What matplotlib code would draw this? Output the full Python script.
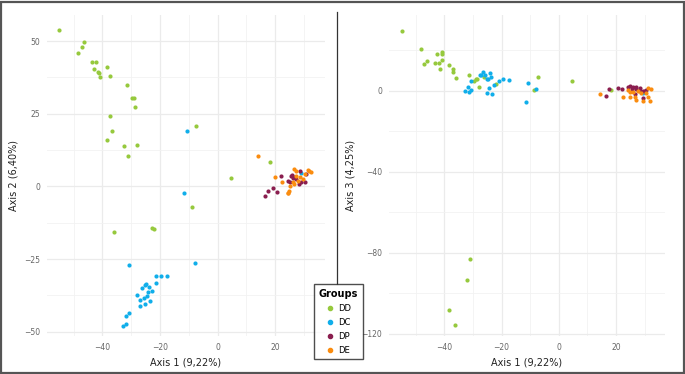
import matplotlib.pyplot as plt
from matplotlib.lines import Line2D
from matplotlib.ticker import MultipleLocator

# ---- data: axis 1 vs axis 2 (left panel) ----
dd_x1 = [-55.1, -46.3, -47.2, -48.4, -43.5, -42.1, -42.9, -41.6, -41.2, -40.9, -38.4, -37.3,
         -31.4, -29.8, -28.9, -28.5, -37.3, -36.6, -38.4, -32.3, -27.9, -31.1, -7.5, 4.6, 18.3,
         -8.8, -36.1, -22.9, -22.2]
dd_y2 = [53.9, 49.8, 48.1, 45.8, 42.9, 42.7, 40.4, 39.4, 39.2, 37.7, 41.2, 38.1,
         34.8, 30.6, 30.6, 27.3, 24.4, 19.0, 16.0, 14.0, 14.2, 10.6, 20.9, 2.9, 8.5,
         -7.0, -15.8, -14.2, -14.7]
dc_x1 = [-10.7, -11.6, -7.9, -30.6, -21.3, -19.5, -17.7, -21.2, -24.8, -25.3, -26.1, -23.8,
         -22.9, -24.2, -27.8, -24.5, -25.6, -26.8, -23.4, -25.2, -26.8, -30.8, -31.7, -31.7,
         -32.9, 29.1]
dc_y2 = [19.0, -2.4, -26.5, -27.2, -30.7, -30.9, -31.0, -33.4, -33.6, -34.1, -35.1, -34.7,
         -35.9, -36.4, -37.4, -37.6, -38.4, -39.2, -39.3, -40.4, -41.2, -43.6, -44.5, -47.3,
         -48.0, 4.5]
dp_x1 = [22.1, 28.5, 25.6, 26.1, 24.4, 25.0, 27.3, 29.1, 30.2, 30.8, 28.2, 19.2, 16.3,
         17.5, 20.7, 25.9, 26.7]
dp_y2 = [3.7, 5.4, 3.7, 2.9, 2.0, 1.4, 2.6, 1.4, 1.4, 4.3, 0.8, -0.6, -3.2,
         -1.5, -1.8, 4.0, 3.4]
de_x1 = [14.1, 19.8, 22.3, 25.0, 24.8, 24.5, 24.3, 26.7, 27.3, 31.4, 31.9, 32.5, 28.5,
         29.6, 26.1, 26.7, 27.9, 30.2, 27.1]
de_y2 = [10.6, 3.4, 1.4, 0.0, -1.5, -2.2, -2.4, 6.0, 5.4, 5.7, 5.4, 4.8, 3.1,
         2.6, 1.4, 0.8, 1.7, 4.3, 3.7]

# ---- data: axis 1 vs axis 3 (right panel) ----
dd_x1b = [-54.9, -48.1, -47.0, -46.0, -43.4, -42.7, -41.9, -41.4, -40.9, -40.7, -40.7, -38.3,
          -37.1, -37.1, -36.0, -31.2, -29.5, -28.9, -28.4, -27.7, -26.0, -22.0, -7.4, -8.6,
          4.6, 18.4, -31.0, -32.1, -38.3, -36.4]
dd_y3 = [29.7, 20.7, 13.3, 14.9, 13.9, 18.1, 13.9, 10.8, 15.3, 18.2, 19.2, 12.5,
         10.7, 9.5, 6.1, 8.0, 4.8, 5.9, 5.9, 1.8, 7.0, 3.3, 6.6, 0.5,
         4.9, 0.5, -82.9, -93.4, -108.2, -115.8]
dc_x1b = [-32.8, -31.6, -31.4, -30.7, -30.5, -27.6, -26.6, -27.0, -25.6, -25.2, -24.7, -24.1,
          -23.6, -24.3, -25.0, -23.3, -22.7, -21.0, -19.4, -17.5, -10.6, -11.5, -7.8, 29.4]
dc_y3 = [0.1, 1.8, -0.6, 0.5, 4.6, 7.7, 9.2, 7.9, 8.0, 5.9, 5.9, 8.9,
         6.7, 1.3, -1.1, -1.5, 3.0, 4.9, 5.8, 5.1, 3.8, -5.6, 0.8, -1.3]
dp_x1b = [16.4, 17.4, 20.7, 22.1, 24.2, 25.0, 25.9, 27.1, 28.3, 25.4, 27.1, 28.3, 29.4,
          30.0, 30.6, 29.4, 26.5]
dp_y3 = [-2.6, 1.1, 1.5, 1.1, 2.0, 2.3, 2.0, 2.0, 1.5, 1.0, 0.7, 0.1, -0.2,
         -0.2, 0.3, -3.8, -1.8]
de_x1b = [14.3, 22.4, 24.8, 26.7, 29.4, 31.2, 31.7, 32.3, 31.2, 24.8, 25.9, 27.7, 28.8,
          24.2, 30.6, 26.9]
de_y3 = [-1.8, -3.0, -3.1, -3.0, -4.8, -3.1, -4.8, 0.7, 1.5, -0.5, -0.5, -0.2, -1.0,
         0.2, -1.0, -4.3]

groups = ['DD', 'DC', 'DP', 'DE']
colors = {'DD': '#96C93D', 'DC': '#10AEEA', 'DP': '#8A1E4F', 'DE': '#FA8C0F'}

left = {'DD': (dd_x1, dd_y2), 'DC': (dc_x1, dc_y2), 'DP': (dp_x1, dp_y2), 'DE': (de_x1, de_y2)}
right = {'DD': (dd_x1b, dd_y3), 'DC': (dc_x1b, dc_y3), 'DP': (dp_x1b, dp_y3), 'DE': (de_x1b, de_y3)}

W, H = 685, 374
fig = plt.figure(figsize=(W / 100, H / 100), dpi=100)
fig.patch.set_facecolor('white')

ax1 = fig.add_axes([47 / W, 1 - 336 / H, 278 / W, 321 / H])
ax2 = fig.add_axes([389 / W, 1 - 336 / H, 276 / W, 321 / H])


def style_axis(ax, xlim, ylim, ymajor, yminor, ylabel):
    ax.set_xlim(*xlim)
    ax.set_ylim(*ylim)
    ax.xaxis.set_major_locator(MultipleLocator(20))
    ax.xaxis.set_minor_locator(MultipleLocator(10))
    ax.yaxis.set_major_locator(MultipleLocator(ymajor))
    ax.yaxis.set_minor_locator(MultipleLocator(yminor))
    ax.grid(which='major', color='#EBEBEB', linewidth=0.9)
    ax.grid(which='minor', color='#F2F2F2', linewidth=0.6)
    ax.set_axisbelow(True)
    for s in ax.spines.values():
        s.set_visible(False)
    ax.tick_params(which='both', length=0, labelsize=5.5, labelcolor='#666666', pad=5)
    ax.set_xlabel('Axis 1 (9,22%)', fontsize=7, color='#222222', labelpad=4)
    ax.set_ylabel(ylabel, fontsize=7, color='#222222', labelpad=4)


for g in groups:
    ax1.scatter(left[g][0], left[g][1], s=9, color=colors[g], linewidths=0, zorder=3)
    ax2.scatter(right[g][0], right[g][1], s=9, color=colors[g], linewidths=0, zorder=3)

style_axis(ax1, (-59.2, 37.3), (-51.5, 59), 25, 12.5, 'Axis 2 (6,40%)')
style_axis(ax2, (-59.3, 37.1), (-121, 37.4), 40, 20, 'Axis 3 (4,25%)')

# divider line and outer frame
fig.add_artist(Line2D([337 / W, 337 / W], [1 - 12 / H, 1 - 284 / H], color='#333333', linewidth=0.9))
fig.add_artist(plt.Rectangle((1 / W, 1 / H), 1 - 2 / W, 1 - 2.5 / H, transform=fig.transFigure,
                             fill=False, edgecolor='#555555', linewidth=1.6))

handles = [Line2D([], [], marker='o', linestyle='', markersize=3.0, color=colors[g]) for g in groups]
leg = fig.legend(handles, groups, loc='upper left', bbox_to_anchor=(314 / W, 1 - 284 / H),
                 borderaxespad=0, title='Groups', fontsize=6, title_fontsize=7, frameon=True,
                 fancybox=False, edgecolor='#222222', borderpad=0.55, labelspacing=0.6,
                 handletextpad=0.5, handlelength=1.0)
leg.get_title().set_fontweight('bold')
leg.get_frame().set_linewidth(1.0)

fig.savefig('out.png', dpi=100)
